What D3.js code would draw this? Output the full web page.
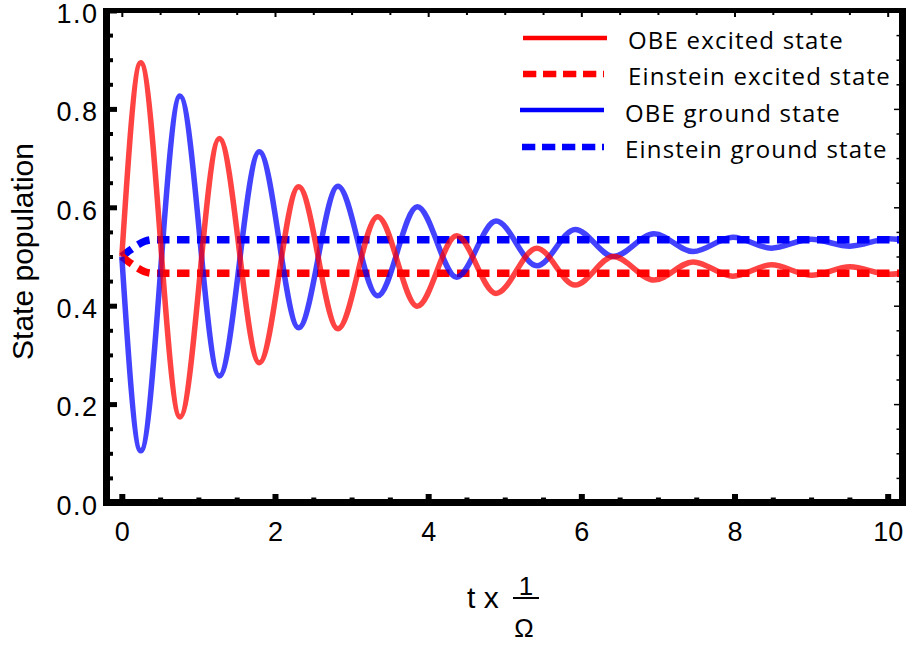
<!DOCTYPE html>
<html>
<head>
<meta charset="utf-8">
<script src="https://cdn.jsdelivr.net/npm/d3@7"></script>
<style>
  body { margin: 0; background: #fff; }
  svg { display: block; }
</style>
</head>
<body>
<svg id="chart" width="906" height="645"></svg>
<script>
// Optical Bloch equation (OBE) populations: turning points of the damped Rabi oscillation
const obeTime    = [0, 0.247, 0.76, 1.273, 1.795, 2.309, 2.822, 3.34, 3.858, 4.372, 4.885, 5.42, 5.92, 6.42, 6.95, 7.46, 7.98, 8.48, 9.0, 9.51, 10.02, 10.2];
const obeExcited = [0.5, 0.894, 0.174, 0.740, 0.284, 0.642, 0.353, 0.581, 0.399, 0.542, 0.425, 0.517, 0.442, 0.500, 0.452, 0.489, 0.460, 0.483, 0.462, 0.479, 0.464, 0.466];
const obeGround  = [0.5, 0.105, 0.826, 0.257, 0.713, 0.355, 0.643, 0.420, 0.601, 0.458, 0.572, 0.481, 0.555, 0.500, 0.546, 0.510, 0.539, 0.517, 0.535, 0.521, 0.536, 0.534];

// Einstein rate-equation populations
const einsteinTime    = [0, 0.1, 0.2, 0.3, 0.4, 10.2];
const einsteinExcited = [0.5, 0.488, 0.477, 0.469, 0.466, 0.466];
const einsteinGround  = [0.5, 0.512, 0.523, 0.531, 0.534, 0.534];

const xMajorTicks = [0, 2, 4, 6, 8, 10];
const xTickLabels = ["0", "2", "4", "6", "8", "10"];
const yMajorTicks = [0, 0.2, 0.4, 0.6, 0.8, 1.0];
const yTickLabels = ["0.0", "0.2", "0.4", "0.6", "0.8", "1.0"];
const seriesNames = ["OBE excited state", "Einstein excited state", "OBE ground state", "Einstein ground state"];

const svg = d3.select("#chart");
const frame = { left: 106.5, right: 903, top: 10.5, bottom: 502.5 };

const x = d3.scaleLinear().domain([-0.2, 10.2]).range([frame.left, frame.right]);
const y = d3.scaleLinear().domain([0, 1]).range([frame.bottom, frame.top]);

const xMinorTicks = d3.range(0, 10.001, 0.5).filter(v => !xMajorTicks.includes(v));
const yMinorTicks = d3.range(0, 21).map(i => i / 20).filter((v, i) => i % 4 !== 0);

const tickFont = "'Liberation Sans', Arial, sans-serif";

// ---- curves ----
svg.append("defs").append("clipPath").attr("id", "plotClip")
  .append("rect")
  .attr("x", frame.left + 3.5).attr("y", frame.top + 2.5)
  .attr("width", frame.right - frame.left - 7.5)
  .attr("height", frame.bottom - frame.top - 6);

const plot = svg.append("g").attr("clip-path", "url(#plotClip)");

const lineOf = (ts, vs, curve) => d3.line()
  .x((d, i) => x(ts[i]))
  .y(d => y(d))
  .curve(curve)(vs);

plot.append("path").attr("d", lineOf(einsteinTime, einsteinGround, d3.curveMonotoneX))
  .attr("fill", "none").attr("stroke", "#0000ff").attr("stroke-width", 7.5)
  .attr("stroke-dasharray", "12.5,7.5");
plot.append("path").attr("d", lineOf(einsteinTime, einsteinExcited, d3.curveMonotoneX))
  .attr("fill", "none").attr("stroke", "#ff0000").attr("stroke-width", 7.5)
  .attr("stroke-dasharray", "12.5,7.5");
plot.append("path").attr("d", lineOf(obeTime, obeGround, d3.curveMonotoneX))
  .attr("fill", "none").attr("stroke", "#0000ff").attr("stroke-opacity", 0.74)
  .attr("stroke-width", 5.5);
plot.append("path").attr("d", lineOf(obeTime, obeExcited, d3.curveMonotoneX))
  .attr("fill", "none").attr("stroke", "#ff0000").attr("stroke-opacity", 0.74)
  .attr("stroke-width", 5.5);

// ---- ticks ----
function styleAxis(g, width) {
  g.select(".domain").remove();
  g.selectAll(".tick line").attr("stroke", "#000").attr("stroke-width", width);
}

// left
svg.append("g").attr("transform", `translate(${frame.left},0)`)
  .call(d3.axisLeft(y).tickValues(yMinorTicks).tickSize(-6.5).tickFormat(""))
  .call(g => styleAxis(g, 4));
svg.append("g").attr("transform", `translate(${frame.left},0)`)
  .call(d3.axisLeft(y).tickValues(yMajorTicks).tickSize(-10.5).tickPadding(8)
    .tickFormat((d, i) => yTickLabels[i]))
  .call(g => styleAxis(g, 5))
  .call(g => g.selectAll(".tick text").attr("font-family", tickFont)
    .attr("font-size", 27).attr("letter-spacing", 1.5).attr("fill", "#000").attr("dy", "0.44em"));

// bottom
svg.append("g").attr("transform", `translate(0,${frame.bottom})`)
  .call(d3.axisBottom(x).tickValues(xMinorTicks).tickSize(-5).tickFormat(""))
  .call(g => styleAxis(g, 5));
svg.append("g").attr("transform", `translate(0,${frame.bottom})`)
  .call(d3.axisBottom(x).tickValues(xMajorTicks).tickSize(-8.5).tickPadding(19.3)
    .tickFormat((d, i) => xTickLabels[i]))
  .call(g => styleAxis(g, 6))
  .call(g => g.selectAll(".tick text").attr("font-family", tickFont)
    .attr("font-size", 27).attr("fill", "#000"));

// right
svg.append("g").attr("transform", `translate(${frame.right},0)`)
  .call(d3.axisRight(y).tickValues(yMinorTicks).tickSize(-6.5).tickFormat(""))
  .call(g => styleAxis(g, 1.5));
svg.append("g").attr("transform", `translate(${frame.right},0)`)
  .call(d3.axisRight(y).tickValues(yMajorTicks).tickSize(-9).tickFormat(""))
  .call(g => styleAxis(g, 1.5));

// top
svg.append("g").attr("transform", `translate(0,${frame.top})`)
  .call(d3.axisTop(x).tickValues(xMinorTicks).tickSize(-4.5).tickFormat(""))
  .call(g => styleAxis(g, 2));
svg.append("g").attr("transform", `translate(0,${frame.top})`)
  .call(d3.axisTop(x).tickValues(xMajorTicks).tickSize(-6.5).tickFormat(""))
  .call(g => styleAxis(g, 2));

// ---- frame ----
const frameG = svg.append("g").attr("stroke", "#000").attr("fill", "none");
frameG.append("line").attr("x1", frame.left).attr("x2", frame.left)
  .attr("y1", frame.top - 2.5).attr("y2", frame.bottom + 3.5).attr("stroke-width", 7);
frameG.append("line").attr("x1", frame.right).attr("x2", frame.right)
  .attr("y1", frame.top - 2.5).attr("y2", frame.bottom + 3.5).attr("stroke-width", 8);
frameG.append("line").attr("x1", frame.left - 3.5).attr("x2", frame.right + 4)
  .attr("y1", frame.bottom).attr("y2", frame.bottom).attr("stroke-width", 7);
frameG.append("line").attr("x1", frame.left - 3.5).attr("x2", frame.right + 4)
  .attr("y1", frame.top).attr("y2", frame.top).attr("stroke-width", 5);

// ---- axis titles ----
svg.append("text")
  .attr("transform", `translate(33,251.5) rotate(-90)`)
  .attr("text-anchor", "middle")
  .attr("font-family", tickFont).attr("font-size", 30).attr("fill", "#000")
  .text("State population");

const xTitle = svg.append("g").attr("font-family", tickFont).attr("fill", "#000");
xTitle.append("text").attr("x", 467).attr("y", 608).attr("font-size", 30).text("t x");
xTitle.append("text").attr("x", 526).attr("y", 595).attr("font-size", 26)
  .attr("text-anchor", "middle").text("1");
xTitle.append("line").attr("x1", 513).attr("x2", 539).attr("y1", 598).attr("y2", 598)
  .attr("stroke", "#000").attr("stroke-width", 2);
xTitle.append("text").attr("x", 524).attr("y", 637).attr("font-size", 26)
  .attr("text-anchor", "middle").text("Ω");

// ---- legend ----
const legendRows = [
  { color: "#ff0000", dash: null,        lineY: 38,  x1: 523, x2: 607, textX: 628, textY: 49.3 },
  { color: "#ff0000", dash: "13.3,6.7",  lineY: 74,  x1: 523, x2: 604, textX: 628, textY: 85 },
  { color: "#0000ff", dash: null,        lineY: 110, x1: 520, x2: 604, textX: 625, textY: 121.7 },
  { color: "#0000ff", dash: "13.3,6.7",  lineY: 147, x1: 522, x2: 604, textX: 625, textY: 158.3 }
];
const legend = svg.append("g");
legendRows.forEach((r, i) => {
  legend.append("line")
    .attr("x1", r.x1).attr("x2", r.x2).attr("y1", r.lineY).attr("y2", r.lineY)
    .attr("stroke", r.color)
    .attr("stroke-width", r.dash ? 6.5 : 4.5)
    .attr("stroke-dasharray", r.dash);
  legend.append("text")
    .attr("x", r.textX).attr("y", r.textY)
    .attr("font-family", "'Open Sans', 'Noto Sans', sans-serif")
    .attr("font-size", 24).attr("letter-spacing", 1.2).attr("fill", "#000")
    .text(seriesNames[i]);
});
</script>
</body>
</html>
